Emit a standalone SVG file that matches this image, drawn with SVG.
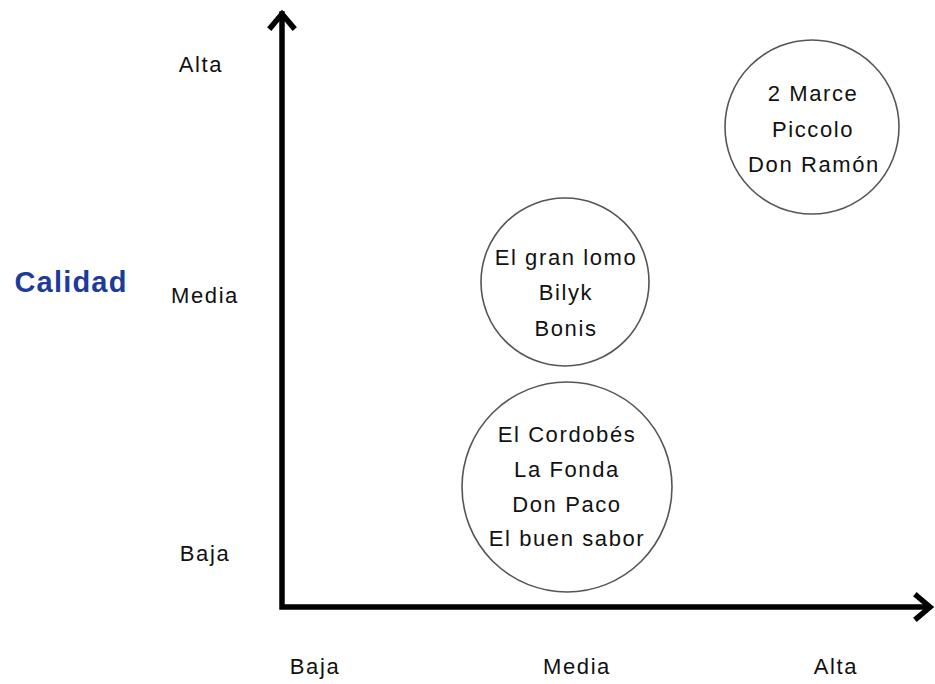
<svg xmlns="http://www.w3.org/2000/svg" width="935" height="684" viewBox="0 0 935 684">
<style>
.t{font-family:"Liberation Sans",Arial,sans-serif;font-size:22px;letter-spacing:1.6px;fill:#111;text-anchor:middle}
.c{fill:#fff;stroke:#555;stroke-width:1.6}
.ax{fill:none;stroke:#000;stroke-width:5.5;stroke-linecap:square;stroke-linejoin:miter}
</style>
<rect width="935" height="684" fill="#fff"/>
<g id="axes">
<polyline class="ax" points="282,14 282,607 928,607"/>
<polyline class="ax" points="271,27 282,14 293,27"/>
<polyline class="ax" points="917,596 930,607 917,618"/>
</g>
<g id="y-labels">
<text class="t" x="201" y="72">Alta</text>
<text class="t" x="205" y="303">Media</text>
<text class="t" x="205" y="561">Baja</text>
<text x="71" y="292" font-family="Liberation Sans,Arial,sans-serif" font-size="29" font-weight="bold" letter-spacing="1.2" fill="#1d3a9c" text-anchor="middle">Calidad</text>
</g>
<g id="x-labels">
<text class="t" x="315" y="674">Baja</text>
<text class="t" x="577" y="674">Media</text>
<text class="t" x="836" y="674">Alta</text>
</g>
<g id="node-alta">
<circle class="c" cx="812" cy="127" r="87"/>
<text class="t" x="813" y="101">2 Marce</text>
<text class="t" x="813" y="137">Piccolo</text>
<text class="t" x="814" y="172">Don Ramón</text>
</g>
<g id="node-media">
<circle class="c" cx="565" cy="282" r="84"/>
<text class="t" x="566" y="265">El gran lomo</text>
<text class="t" x="566" y="300">Bilyk</text>
<text class="t" x="566" y="336">Bonis</text>
</g>
<g id="node-baja">
<circle class="c" cx="567" cy="487" r="105"/>
<text class="t" x="567" y="442">El Cordobés</text>
<text class="t" x="567" y="477">La Fonda</text>
<text class="t" x="567" y="512">Don Paco</text>
<text class="t" x="567" y="546">El buen sabor</text>
</g>
</svg>
